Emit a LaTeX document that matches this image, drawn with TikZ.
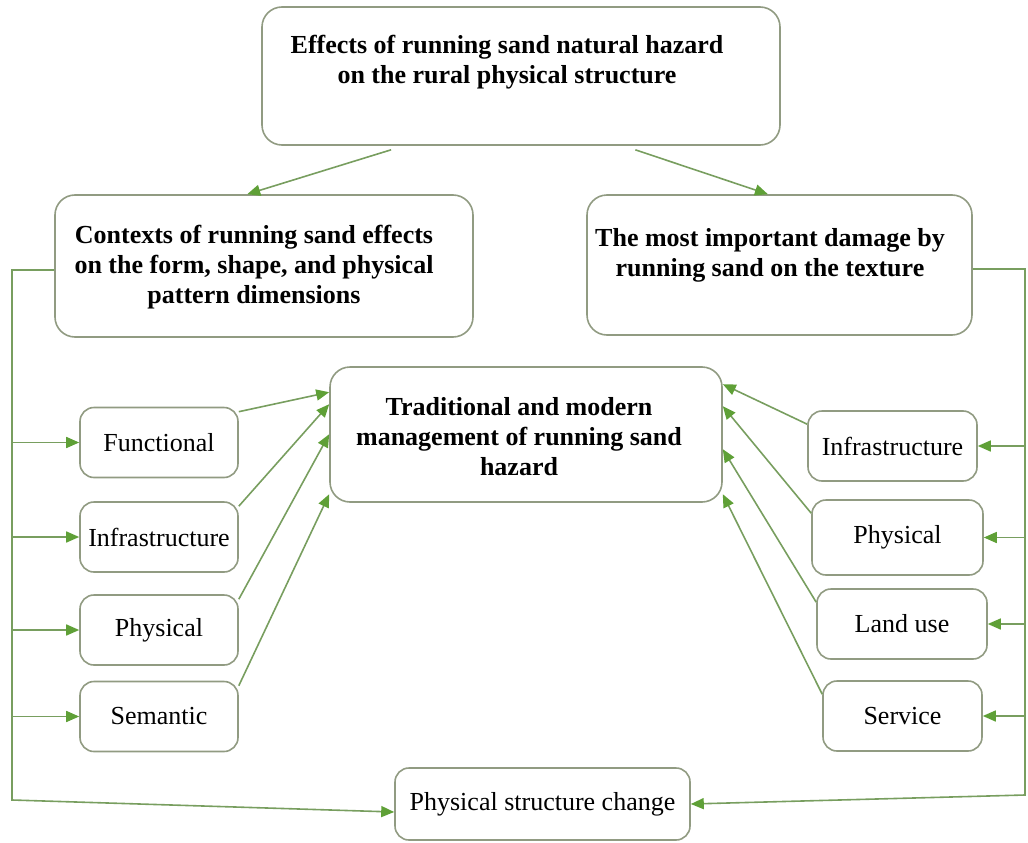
\documentclass[tikz,border=0pt]{standalone}
\usepackage{fontspec}
\setmainfont{Liberation Serif}
\usetikzlibrary{arrows.meta,calc}

\definecolor{boxline}{RGB}{145,155,130}
\definecolor{linkline}{RGB}{120,158,95}
\definecolor{tipgreen}{RGB}{95,160,55}

\begin{document}
\begin{tikzpicture}[x=1pt,y=-1pt,
		box/.style={draw=boxline, line width=1.6pt, fill=white, rounded corners=#1, inner sep=0pt},
		box/.default=14pt,
		head/.style={font=\fontsize{26}{30}\selectfont\bfseries, align=center},
		item/.style={box, minimum width=158pt, minimum height=70pt, font=\fontsize{26}{30}\selectfont},
		arr/.style={draw=linkline, line width=1.6pt, -{Triangle[length=13pt,width=11pt,color=tipgreen]}}]
		\useasboundingbox (0,0) rectangle (1028,843);

		\node[box=20pt, minimum width=518pt, minimum height=138pt] (eff) at (521,76) {};
		\node[head] (efftxt) at (507,62) {Effects of running sand natural hazard\\on the rural physical structure};
		\node[box=20pt, minimum width=418pt, minimum height=142pt] (ctx) at (264,266) {};
		\node[head] (ctxtxt) at (254,267) {Contexts of running sand effects\\on the form, shape, and physical\\pattern dimensions};
		\node[box=20pt, minimum width=385pt, minimum height=140pt] (dmg) at (779.5,265) {};
		\node[head] (dmgtxt) at (770,255) {The most important damage by\\running sand on the texture};
		\node[box=20pt, minimum width=392pt, minimum height=135pt] (mgmt) at (526,434.5) {};
		\node[head] (mgmttxt) at (519,437) {Traditional and modern\\management of running sand\\hazard};

		\node[item] (lfun) at (159,442.5) {Functional};
		\node[item] (linf) at (159,537) {Infrastructure};
		\node[item] (lphy) at (159,630) {Physical};
		\node[item] (lsem) at (159,716.5) {Semantic};

		\node[item, minimum width=169pt] (rinf) at (892.5,446) {Infrastructure};
		\node[item, minimum width=171pt, minimum height=75pt] (rphy) at (897.5,537.5) {Physical};
		\node[item, minimum width=170pt] (rland) at (902,624) {Land use};
		\node[item, minimum width=159pt] (rserv) at (902.5,716) {Service};

		\node[item, minimum width=295pt, minimum height=72pt] (chg) at (542.5,804) {Physical structure change};

		\coordinate (lcor) at (12,800);
		\coordinate (rcor) at (1025,795);

		\draw[arr] ($(eff.south west)!0.25!(eff.south east)+(0,4)$) -- ($(ctx.north west)!0.46!(ctx.north east)$);
		\draw[arr] ($(eff.south west)!0.72!(eff.south east)+(0,4)$) -- ($(dmg.north west)!0.47!(dmg.north east)$);

		\draw[arr] ([yshift=-4]ctx.west) -| (lcor) -- ([yshift=-8]chg.west);
		\draw[arr] ([yshift=-4]dmg.east) -| (rcor) -- (chg.east);

		\foreach \n in {lfun,linf,lphy,lsem}
			\draw[arr] (\n.west -| lcor) -- (\n.west);
		\foreach \n in {rinf,rphy,rland,rserv}
			\draw[arr] (\n.east -| rcor) -- (\n.east);

		\foreach \n/\d in {lfun/26,linf/38,lphy/68,lsem/128}
			\draw[arr] ([yshift=-5]\n.north east) -- ([yshift=-\d]mgmt.north west);
		\foreach \n/\d in {rinf/18,rphy/40,rland/83,rserv/128}
			\draw[arr] ([yshift=-14]\n.north west) -- ([yshift=-\d]mgmt.north east);
	\end{tikzpicture}
\end{document}
